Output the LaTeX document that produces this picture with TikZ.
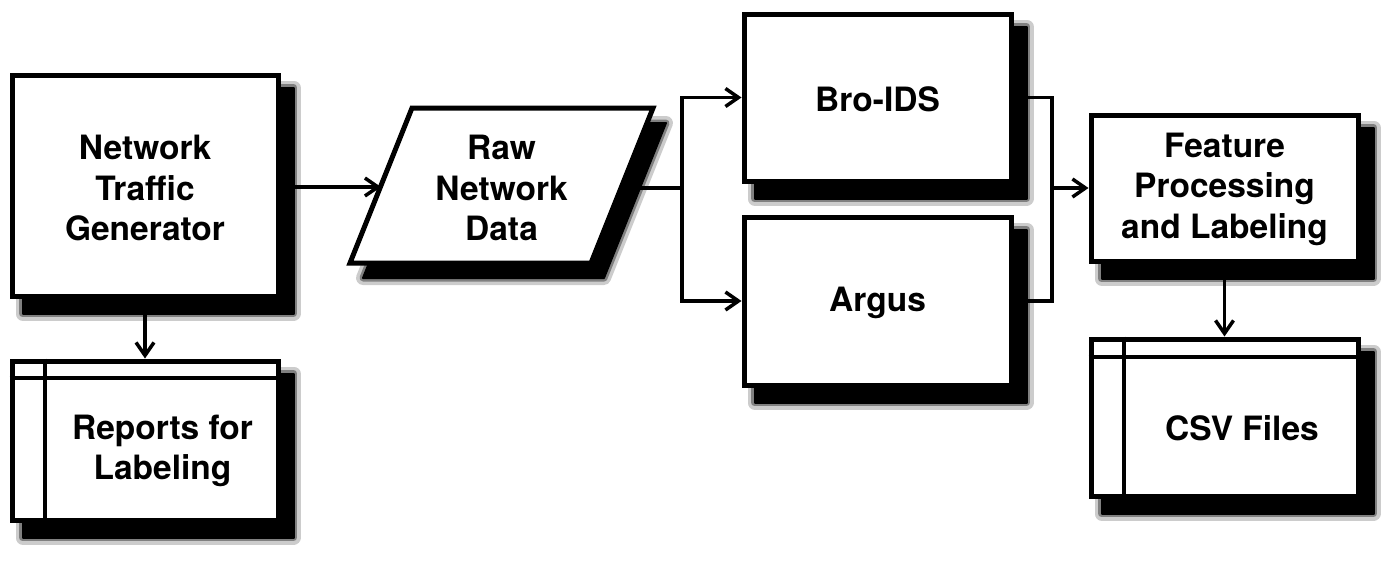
\documentclass[tikz,border=0pt]{standalone}
\usepackage{fontspec}
\setmainfont{TeX Gyre Heros}
\usetikzlibrary{arrows.meta,backgrounds}
\tikzset{
  box/.style={draw=black,line width=5pt,fill=white,rectangle,inner sep=0pt},
  txt/.style={align=center,font=\fontsize{33.5}{40.5}\selectfont\bfseries,inner sep=0pt},
  conn/.style={line width=3.5pt,black},
  arr/.style={conn,-{Straight Barb[length=13pt,width=18pt,line width=3.5pt]}},
  inner/.style={line width=4pt,black},
  halo1/.style={draw=black!20,fill=black!20,line width=14pt,line join=round},
  halo2/.style={draw=black!50,fill=black!50,line width=7pt,line join=round},
  halo3/.style={draw=black,fill=black,line width=2pt,line join=round},
}
\newcommand\boxshadow[1]{%
  \path[halo1] ([shift={(13,15)}]#1.north west) rectangle ([shift={(13,15)}]#1.south east);
  \path[halo2] ([shift={(13,15)}]#1.north west) rectangle ([shift={(13,15)}]#1.south east);
  \path[halo3] ([shift={(13,15)}]#1.north west) rectangle ([shift={(13,15)}]#1.south east);}
\newcommand\pgramshadow[1]{%
  \path[#1] ([shift={(13,15)}]ptl) -- ([shift={(13,15)}]ptr) -- ([shift={(13,15)}]pbr) -- ([shift={(13,15)}]pbl) -- cycle;}
\begin{document}
\begin{tikzpicture}[x=1pt,y=-1pt]
\useasboundingbox (0,0) rectangle (1400,562);
% boxes
\node[box,minimum width=266pt,minimum height=221pt] (ntg) at (145,185.5) {};
\node[txt] (ntgt) at (145,188) {Network\\Traffic\\Generator};
\node[box,minimum width=266pt,minimum height=159pt] (rep) at (145,440.5) {};
\node[txt] (rept) at (162.5,451) {Reports for\\Labeling};
\node[box,minimum width=267pt,minimum height=167pt] (bro) at (877.5,97.5) {};
\node[txt] (brot) at (877.5,99) {Bro-IDS};
\node[box,minimum width=267pt,minimum height=168pt] (argus) at (877.5,301) {};
\node[txt] (argust) at (877.5,303) {Argus};
\node[box,minimum width=267pt,minimum height=146pt] (feat) at (1224.5,188) {};
\node[txt] (featt) at (1224.5,189) {Feature\\Processing\\and Labeling};
\node[box,minimum width=267pt,minimum height=157pt] (csv) at (1224.5,417.5) {};
\node[txt] (csvt) at (1242,428.5) {CSV Files};
% parallelogram
\coordinate (ptl) at (412,108);
\coordinate (ptr) at (653,108);
\coordinate (pbr) at (591,263);
\coordinate (pbl) at (350,263);
\coordinate (rawin) at (381,187);
\coordinate (rawout) at (621,188);
\node[txt] (raw) at (501.5,188) {Raw\\Network\\Data};
% shadows
\begin{scope}[on background layer]
\boxshadow{ntg}\boxshadow{rep}\boxshadow{bro}\boxshadow{argus}\boxshadow{feat}\boxshadow{csv}
\pgramshadow{halo1}\pgramshadow{halo2}\pgramshadow{halo3}
\draw[line width=5pt,fill=white,line join=miter] (ptl) -- (ptr) -- (pbr) -- (pbl) -- cycle;
\end{scope}
% inner lines of document boxes
\coordinate (repv) at (45,0);
\coordinate (reph) at (0,378);
\coordinate (csvv) at (1124,0);
\coordinate (csvh) at (0,357);
\draw[inner] (rep.north -| repv) -- (rep.south -| repv);
\draw[inner] (rep.west |- reph) -- (rep.east |- reph);
\draw[inner] (csv.north -| csvv) -- (csv.south -| csvv);
\draw[inner] (csv.west |- csvh) -- (csv.east |- csvh);
% connectors
\coordinate (split) at (682,188);
\coordinate (merge) at (1052,188);
\draw[arr] (ntg.east |- rawin) -- (rawin);
\draw[arr] (ntg.south) -- (rep.north);
\draw[conn] (rawout) -- (split);
\draw[arr] (split) |- (bro.west);
\draw[arr] (split) |- (argus.west);
\draw[conn] (bro.east) -| (merge) |- (argus.east);
\draw[arr] (merge) -- (feat.west);
\draw[arr] (feat.south) -- (csv.north);
\end{tikzpicture}
\end{document}
